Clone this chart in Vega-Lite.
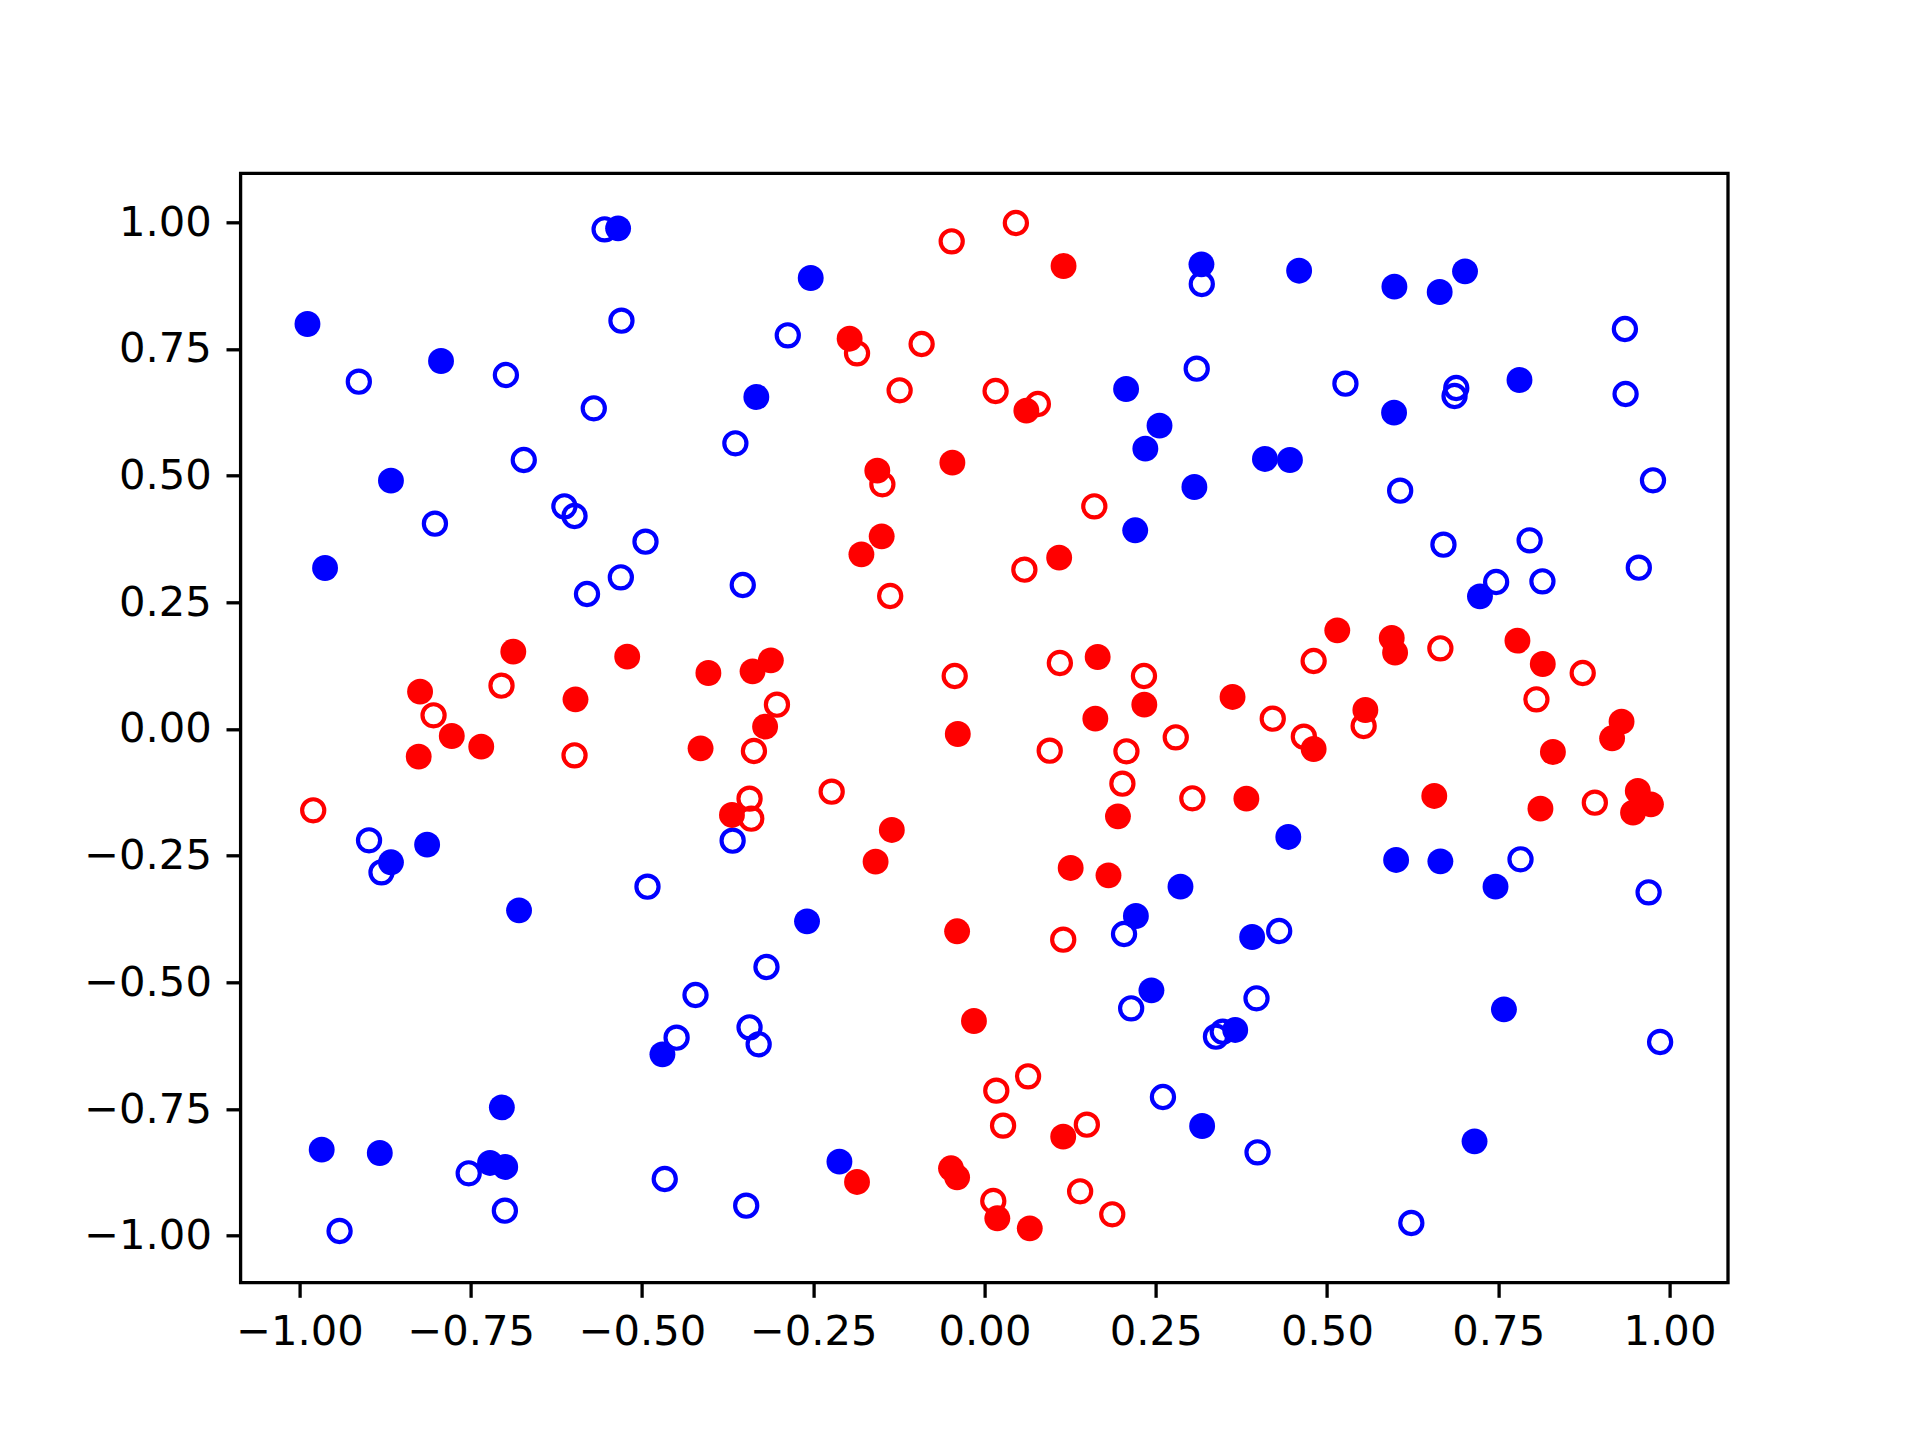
{
  "$schema": "https://vega.github.io/schema/vega-lite/v6.json",
  "autosize": {"type": "none"},
  "padding": {"left": 240.6, "top": 173.3, "right": 192, "bottom": 157.3},
  "width": 1487.4,
  "height": 1109.4,
  "background": "white",
  "data": {"values": [
    {"x": -0.5546, "y": 0.9861, "c": "b", "f": 0},
    {"x": -0.5349, "y": 0.9881, "c": "b", "f": 1},
    {"x": -0.9884, "y": 0.7993, "c": "b", "f": 1},
    {"x": -0.5300, "y": 0.8059, "c": "b", "f": 0},
    {"x": -0.7934, "y": 0.7263, "c": "b", "f": 1},
    {"x": -0.9134, "y": 0.6855, "c": "b", "f": 0},
    {"x": -0.6987, "y": 0.6986, "c": "b", "f": 0},
    {"x": -0.5704, "y": 0.6329, "c": "b", "f": 0},
    {"x": -0.3637, "y": 0.5638, "c": "b", "f": 0},
    {"x": -0.2537, "y": 0.8901, "c": "b", "f": 1},
    {"x": -0.2872, "y": 0.7769, "c": "b", "f": 0},
    {"x": -0.3331, "y": 0.6552, "c": "b", "f": 1},
    {"x": -0.1969, "y": 0.7703, "c": "r", "f": 1},
    {"x": -0.1861, "y": 0.7414, "c": "r", "f": 0},
    {"x": -0.0918, "y": 0.7598, "c": "r", "f": 0},
    {"x": -0.0479, "y": 0.9624, "c": "r", "f": 0},
    {"x": 0.0458, "y": 0.9986, "c": "r", "f": 0},
    {"x": 0.1154, "y": 0.9138, "c": "r", "f": 1},
    {"x": 0.3167, "y": 0.9170, "c": "b", "f": 1},
    {"x": 0.3172, "y": 0.8782, "c": "b", "f": 0},
    {"x": 0.3098, "y": 0.7111, "c": "b", "f": 0},
    {"x": 0.2067, "y": 0.6710, "c": "b", "f": 1},
    {"x": 0.2555, "y": 0.5986, "c": "b", "f": 1},
    {"x": 0.2348, "y": 0.5533, "c": "b", "f": 1},
    {"x": -0.1239, "y": 0.6684, "c": "r", "f": 0},
    {"x": 0.0162, "y": 0.6671, "c": "r", "f": 0},
    {"x": 0.0611, "y": 0.6283, "c": "r", "f": 1},
    {"x": 0.0779, "y": 0.6414, "c": "r", "f": 0},
    {"x": 0.4593, "y": 0.9045, "c": "b", "f": 1},
    {"x": 0.5984, "y": 0.8730, "c": "b", "f": 1},
    {"x": 0.6645, "y": 0.8624, "c": "b", "f": 1},
    {"x": 0.7015, "y": 0.9032, "c": "b", "f": 1},
    {"x": 0.9349, "y": 0.7894, "c": "b", "f": 0},
    {"x": 0.5269, "y": 0.6815, "c": "b", "f": 0},
    {"x": 0.5979, "y": 0.6243, "c": "b", "f": 1},
    {"x": 0.6887, "y": 0.6730, "c": "b", "f": 0},
    {"x": 0.6862, "y": 0.6572, "c": "b", "f": 0},
    {"x": 0.7810, "y": 0.6888, "c": "b", "f": 1},
    {"x": 0.9359, "y": 0.6611, "c": "b", "f": 0},
    {"x": -0.6726, "y": 0.5309, "c": "b", "f": 0},
    {"x": -0.8665, "y": 0.4901, "c": "b", "f": 1},
    {"x": -0.8023, "y": 0.4052, "c": "b", "f": 0},
    {"x": -0.9627, "y": 0.3177, "c": "b", "f": 1},
    {"x": -0.6133, "y": 0.4394, "c": "b", "f": 0},
    {"x": -0.5985, "y": 0.4204, "c": "b", "f": 0},
    {"x": -0.4949, "y": 0.3697, "c": "b", "f": 0},
    {"x": -0.5309, "y": 0.2993, "c": "b", "f": 0},
    {"x": -0.5803, "y": 0.2664, "c": "b", "f": 0},
    {"x": -0.6879, "y": 0.1526, "c": "r", "f": 1},
    {"x": -0.7051, "y": 0.0855, "c": "r", "f": 0},
    {"x": -0.8240, "y": 0.0737, "c": "r", "f": 1},
    {"x": -0.8043, "y": 0.0270, "c": "r", "f": 0},
    {"x": -0.5216, "y": 0.1428, "c": "r", "f": 1},
    {"x": -0.5971, "y": 0.0585, "c": "r", "f": 1},
    {"x": -0.4031, "y": 0.1105, "c": "r", "f": 1},
    {"x": -0.1565, "y": 0.5098, "c": "r", "f": 1},
    {"x": -0.1491, "y": 0.4829, "c": "r", "f": 0},
    {"x": -0.0469, "y": 0.5256, "c": "r", "f": 1},
    {"x": -0.1501, "y": 0.3802, "c": "r", "f": 1},
    {"x": -0.1797, "y": 0.3447, "c": "r", "f": 1},
    {"x": -0.3529, "y": 0.2842, "c": "b", "f": 0},
    {"x": -0.1377, "y": 0.2625, "c": "r", "f": 0},
    {"x": 0.3064, "y": 0.4776, "c": "b", "f": 1},
    {"x": 0.2200, "y": 0.3921, "c": "b", "f": 1},
    {"x": 0.1603, "y": 0.4394, "c": "r", "f": 0},
    {"x": 0.1090, "y": 0.3381, "c": "r", "f": 1},
    {"x": 0.0582, "y": 0.3145, "c": "r", "f": 0},
    {"x": -0.3386, "y": 0.1138, "c": "r", "f": 1},
    {"x": -0.3119, "y": 0.1355, "c": "r", "f": 1},
    {"x": -0.3030, "y": 0.0480, "c": "r", "f": 0},
    {"x": -0.3203, "y": 0.0046, "c": "r", "f": 1},
    {"x": -0.0435, "y": 0.1046, "c": "r", "f": 0},
    {"x": 0.1100, "y": 0.1303, "c": "r", "f": 0},
    {"x": 0.1652, "y": 0.1421, "c": "r", "f": 1},
    {"x": 0.2328, "y": 0.1046, "c": "r", "f": 0},
    {"x": 0.2333, "y": 0.0480, "c": "r", "f": 1},
    {"x": 0.1618, "y": 0.0204, "c": "r", "f": 1},
    {"x": 0.4094, "y": 0.5329, "c": "b", "f": 1},
    {"x": 0.4459, "y": 0.5309, "c": "b", "f": 1},
    {"x": 0.6068, "y": 0.4704, "c": "b", "f": 0},
    {"x": 0.9759, "y": 0.4908, "c": "b", "f": 0},
    {"x": 0.6700, "y": 0.3638, "c": "b", "f": 0},
    {"x": 0.7958, "y": 0.3723, "c": "b", "f": 0},
    {"x": 0.9552, "y": 0.3184, "c": "b", "f": 0},
    {"x": 0.7469, "y": 0.2901, "c": "b", "f": 0},
    {"x": 0.7233, "y": 0.2618, "c": "b", "f": 1},
    {"x": 0.8145, "y": 0.2914, "c": "b", "f": 0},
    {"x": 0.5150, "y": 0.1947, "c": "r", "f": 1},
    {"x": 0.4805, "y": 0.1342, "c": "r", "f": 0},
    {"x": 0.5945, "y": 0.1796, "c": "r", "f": 1},
    {"x": 0.5994, "y": 0.1506, "c": "r", "f": 1},
    {"x": 0.6655, "y": 0.1592, "c": "r", "f": 0},
    {"x": 0.7780, "y": 0.1743, "c": "r", "f": 1},
    {"x": 0.8150, "y": 0.1283, "c": "r", "f": 1},
    {"x": 0.8733, "y": 0.1105, "c": "r", "f": 0},
    {"x": 0.8057, "y": 0.0585, "c": "r", "f": 0},
    {"x": 0.3621, "y": 0.0632, "c": "r", "f": 1},
    {"x": 0.4208, "y": 0.0204, "c": "r", "f": 0},
    {"x": 0.5560, "y": 0.0375, "c": "r", "f": 1},
    {"x": 0.5535, "y": 0.0059, "c": "r", "f": 0},
    {"x": 0.9300, "y": 0.0145, "c": "r", "f": 1},
    {"x": -0.7777, "y": -0.0138, "c": "r", "f": 1},
    {"x": -0.7347, "y": -0.0349, "c": "r", "f": 1},
    {"x": -0.8260, "y": -0.0546, "c": "r", "f": 1},
    {"x": -0.5985, "y": -0.0520, "c": "r", "f": 0},
    {"x": -0.4145, "y": -0.0382, "c": "r", "f": 1},
    {"x": -0.9800, "y": -0.1605, "c": "r", "f": 0},
    {"x": -0.8985, "y": -0.2197, "c": "b", "f": 0},
    {"x": -0.8665, "y": -0.2631, "c": "b", "f": 1},
    {"x": -0.8803, "y": -0.2829, "c": "b", "f": 0},
    {"x": -0.8137, "y": -0.2283, "c": "b", "f": 1},
    {"x": -0.6795, "y": -0.3579, "c": "b", "f": 1},
    {"x": -0.4920, "y": -0.3112, "c": "b", "f": 0},
    {"x": -0.4219, "y": -0.5250, "c": "b", "f": 0},
    {"x": -0.3366, "y": -0.0434, "c": "r", "f": 0},
    {"x": -0.0390, "y": -0.0099, "c": "r", "f": 1},
    {"x": 0.0952, "y": -0.0428, "c": "r", "f": 0},
    {"x": 0.2072, "y": -0.0441, "c": "r", "f": 0},
    {"x": 0.2792, "y": -0.0165, "c": "r", "f": 0},
    {"x": -0.3430, "y": -0.1375, "c": "r", "f": 0},
    {"x": -0.3687, "y": -0.1697, "c": "r", "f": 1},
    {"x": -0.3405, "y": -0.1770, "c": "r", "f": 0},
    {"x": -0.3677, "y": -0.2204, "c": "b", "f": 0},
    {"x": -0.2231, "y": -0.1237, "c": "r", "f": 0},
    {"x": -0.1353, "y": -0.1993, "c": "r", "f": 1},
    {"x": -0.1590, "y": -0.2618, "c": "r", "f": 1},
    {"x": 0.2013, "y": -0.1079, "c": "r", "f": 0},
    {"x": 0.1948, "y": -0.1724, "c": "r", "f": 1},
    {"x": 0.3034, "y": -0.1368, "c": "r", "f": 0},
    {"x": 0.1258, "y": -0.2743, "c": "r", "f": 1},
    {"x": 0.1810, "y": -0.2888, "c": "r", "f": 1},
    {"x": 0.2861, "y": -0.3112, "c": "b", "f": 1},
    {"x": -0.2591, "y": -0.3796, "c": "b", "f": 1},
    {"x": -0.0400, "y": -0.3993, "c": "r", "f": 1},
    {"x": 0.1149, "y": -0.4158, "c": "r", "f": 0},
    {"x": 0.2210, "y": -0.3691, "c": "b", "f": 1},
    {"x": 0.2037, "y": -0.4046, "c": "b", "f": 0},
    {"x": -0.3183, "y": -0.4697, "c": "b", "f": 0},
    {"x": 0.2437, "y": -0.5158, "c": "b", "f": 1},
    {"x": 0.2141, "y": -0.5513, "c": "b", "f": 0},
    {"x": 0.4662, "y": -0.0151, "c": "r", "f": 0},
    {"x": 0.4805, "y": -0.0395, "c": "r", "f": 1},
    {"x": 0.9162, "y": -0.0184, "c": "r", "f": 1},
    {"x": 0.8298, "y": -0.0454, "c": "r", "f": 1},
    {"x": 0.3823, "y": -0.1375, "c": "r", "f": 1},
    {"x": 0.6566, "y": -0.1322, "c": "r", "f": 1},
    {"x": 0.8116, "y": -0.1572, "c": "r", "f": 1},
    {"x": 0.8910, "y": -0.1454, "c": "r", "f": 0},
    {"x": 0.9537, "y": -0.1224, "c": "r", "f": 1},
    {"x": 0.9729, "y": -0.1487, "c": "r", "f": 1},
    {"x": 0.9468, "y": -0.1651, "c": "r", "f": 1},
    {"x": 0.4435, "y": -0.2131, "c": "b", "f": 1},
    {"x": 0.6009, "y": -0.2585, "c": "b", "f": 1},
    {"x": 0.6655, "y": -0.2612, "c": "b", "f": 1},
    {"x": 0.7825, "y": -0.2572, "c": "b", "f": 0},
    {"x": 0.7460, "y": -0.3112, "c": "b", "f": 1},
    {"x": 0.9695, "y": -0.3224, "c": "b", "f": 0},
    {"x": 0.3907, "y": -0.4105, "c": "b", "f": 1},
    {"x": 0.4302, "y": -0.3987, "c": "b", "f": 0},
    {"x": 0.3971, "y": -0.5315, "c": "b", "f": 0},
    {"x": 0.7583, "y": -0.5533, "c": "b", "f": 1},
    {"x": -0.4495, "y": -0.6092, "c": "b", "f": 0},
    {"x": -0.4702, "y": -0.6421, "c": "b", "f": 1},
    {"x": -0.7046, "y": -0.7467, "c": "b", "f": 1},
    {"x": -0.9676, "y": -0.8302, "c": "b", "f": 1},
    {"x": -0.8828, "y": -0.8368, "c": "b", "f": 1},
    {"x": -0.7219, "y": -0.8565, "c": "b", "f": 1},
    {"x": -0.6997, "y": -0.8644, "c": "b", "f": 1},
    {"x": -0.7530, "y": -0.8769, "c": "b", "f": 0},
    {"x": -0.7002, "y": -0.9506, "c": "b", "f": 0},
    {"x": -0.9415, "y": -0.9907, "c": "b", "f": 0},
    {"x": -0.4668, "y": -0.8881, "c": "b", "f": 0},
    {"x": -0.3430, "y": -0.5888, "c": "b", "f": 0},
    {"x": -0.3297, "y": -0.6223, "c": "b", "f": 0},
    {"x": -0.0154, "y": -0.5763, "c": "r", "f": 1},
    {"x": 0.0636, "y": -0.6855, "c": "r", "f": 0},
    {"x": 0.0172, "y": -0.7138, "c": "r", "f": 0},
    {"x": 0.0271, "y": -0.7828, "c": "r", "f": 0},
    {"x": 0.2605, "y": -0.7263, "c": "b", "f": 0},
    {"x": 0.3177, "y": -0.7835, "c": "b", "f": 1},
    {"x": 0.3379, "y": -0.6072, "c": "b", "f": 0},
    {"x": 0.3478, "y": -0.5973, "c": "b", "f": 0},
    {"x": 0.3660, "y": -0.5940, "c": "b", "f": 1},
    {"x": -0.2118, "y": -0.8539, "c": "b", "f": 1},
    {"x": -0.1861, "y": -0.8940, "c": "r", "f": 1},
    {"x": -0.3479, "y": -0.9407, "c": "b", "f": 0},
    {"x": -0.0489, "y": -0.8670, "c": "r", "f": 1},
    {"x": -0.0400, "y": -0.8848, "c": "r", "f": 1},
    {"x": 0.0128, "y": -0.9315, "c": "r", "f": 0},
    {"x": 0.0187, "y": -0.9657, "c": "r", "f": 1},
    {"x": 0.0661, "y": -0.9855, "c": "r", "f": 1},
    {"x": 0.1149, "y": -0.8046, "c": "r", "f": 1},
    {"x": 0.1494, "y": -0.7809, "c": "r", "f": 0},
    {"x": 0.1396, "y": -0.9124, "c": "r", "f": 0},
    {"x": 0.1865, "y": -0.9578, "c": "r", "f": 0},
    {"x": 0.9863, "y": -0.6177, "c": "b", "f": 0},
    {"x": 0.3986, "y": -0.8355, "c": "b", "f": 0},
    {"x": 0.7154, "y": -0.8138, "c": "b", "f": 1},
    {"x": 0.6231, "y": -0.9749, "c": "b", "f": 0}
  ]},
  "encoding": {
    "x": {"field": "x", "type": "quantitative",
      "scale": {"domain": [-1.086, 1.0854], "nice": false, "zero": false},
      "axis": {"values": [-1, -0.75, -0.5, -0.25, 0, 0.25, 0.5, 0.75, 1],
        "labelExpr": "replace(format(datum.value, '.2f'), '-', '\u2212')"}},
    "y": {"field": "y", "type": "quantitative",
      "scale": {"domain": [-1.0928, 1.0967], "nice": false, "zero": false},
      "axis": {"values": [-1, -0.75, -0.5, -0.25, 0, 0.25, 0.5, 0.75, 1],
        "labelExpr": "replace(format(datum.value, '.2f'), '-', '\u2212')"}},
    "color": {"field": "c", "type": "nominal",
      "scale": {"domain": ["b", "r"], "range": ["#0000ff", "#ff0000"]},
      "legend": null}
  },
  "layer": [
    {"transform": [{"filter": "datum.f == 0"}],
     "mark": {"type": "point", "shape": "circle", "filled": false, "size": 491, "strokeWidth": 4.17, "opacity": 1}},
    {"transform": [{"filter": "datum.f == 1 && datum.c == 'b'"}],
     "mark": {"type": "circle", "size": 670, "opacity": 1}},
    {"transform": [{"filter": "datum.f == 1 && datum.c == 'r'"}],
     "mark": {"type": "circle", "size": 670, "opacity": 1}}
  ],
  "config": {
    "view": {"stroke": "black", "strokeWidth": 3.3},
    "axis": {
      "domain": false, "grid": false, "title": null,
      "ticks": true, "tickColor": "black", "tickSize": 14.6, "tickWidth": 3.3,
      "labelFont": "DejaVu Sans", "labelFontSize": 41.7, "labelColor": "black",
      "labelPadding": 14.6, "labelOverlap": false, "labelBound": false, "labelFlush": false
    }
  }
}
